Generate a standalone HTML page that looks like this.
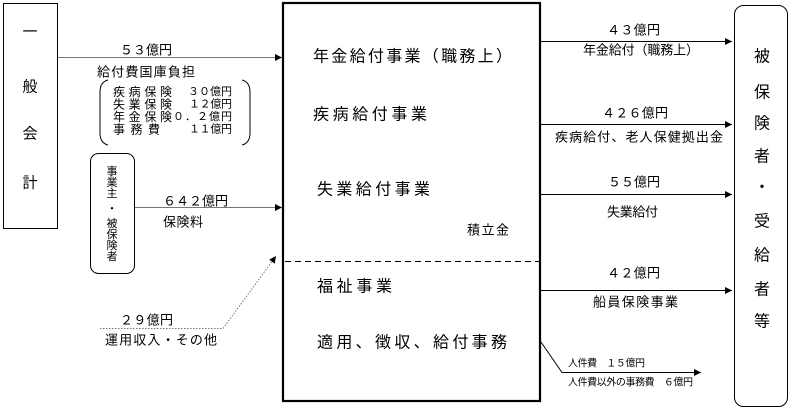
<!DOCTYPE html>
<html><head><meta charset="utf-8"><style>
html,body{margin:0;padding:0;background:#fff;}
svg{display:block;}
text{font-family:"Liberation Sans","Noto Sans CJK JP",sans-serif;fill:#000;dominant-baseline:central;}
</style></head><body>
<svg width="792" height="415" viewBox="0 0 792 415" xmlns="http://www.w3.org/2000/svg">
<defs>
<marker id="ah" markerWidth="8" markerHeight="8" refX="7" refY="4" orient="auto" markerUnits="userSpaceOnUse">
<path d="M0,0.5 L7,4 L0,7.5 Z" fill="#000"/>
</marker>
</defs>

<!-- left box 一般会計 -->
<rect x="3.5" y="3.5" width="54" height="225" fill="#fff" stroke="#000" stroke-width="1"/>
<g font-size="15" text-anchor="middle">
<text x="30" y="32">一</text>
<text x="30" y="87">般</text>
<text x="30" y="134">会</text>
<text x="30" y="183">計</text>
</g>

<!-- main box -->
<rect x="283" y="3" width="257" height="398" fill="none" stroke="#000" stroke-width="2.2"/>
<line x1="285" y1="261.5" x2="540" y2="261.5" stroke="#000" stroke-width="1" stroke-dasharray="6,4"/>
<g font-size="16">
<text x="313" y="57" textLength="199" lengthAdjust="spacing">年金給付事業（職務上）</text>
<text x="313" y="115" textLength="114" lengthAdjust="spacing">疾病給付事業</text>
<text x="317" y="190" textLength="113" lengthAdjust="spacing">失業給付事業</text>
<text x="317" y="287" textLength="75" lengthAdjust="spacing">福祉事業</text>
<text x="317" y="343" textLength="190" lengthAdjust="spacing">適用、徴収、給付事務</text>
</g>
<text x="467" y="230" font-size="13" textLength="42" lengthAdjust="spacing">積立金</text>

<!-- right box -->
<rect x="734.5" y="5.5" width="53" height="401" rx="9" ry="9" fill="#fff" stroke="#000" stroke-width="1"/>
<g font-size="16" text-anchor="middle">
<text x="762" y="57">被</text>
<text x="762" y="93">保</text>
<text x="762" y="124">険</text>
<text x="762" y="157">者</text>
<text x="762" y="188">・</text>
<text x="762" y="222">受</text>
<text x="762" y="256">給</text>
<text x="762" y="290">者</text>
<text x="762" y="322">等</text>
</g>

<!-- 53億円 arrow -->
<line x1="58" y1="57.5" x2="282" y2="57.5" stroke="#777" stroke-width="1" marker-end="url(#ah)"/>
<g font-size="13">
<text x="120" y="50" textLength="52" lengthAdjust="spacing">５３億円</text>
<text x="97" y="72" textLength="98" lengthAdjust="spacing">給付費国庫負担</text>
</g>

<!-- bracket group -->
<path d="M108,80 Q100,82 100,92 L100,133 Q100,143 108,145" fill="none" stroke="#000" stroke-width="1"/>
<path d="M242,80 Q250,82 250,92 L250,133 Q250,143 242,145" fill="none" stroke="#000" stroke-width="1"/>
<g font-size="12">
<text x="113" y="92" textLength="59" lengthAdjust="spacing">疾病保険</text>
<text x="113" y="104.5" textLength="59" lengthAdjust="spacing">失業保険</text>
<text x="113" y="117" textLength="59" lengthAdjust="spacing">年金保険</text>
<text x="113" y="129.5" textLength="47" lengthAdjust="spacing">事務費</text>
</g>
<g font-size="11">
<text x="188" y="92" textLength="44" lengthAdjust="spacing">３０億円</text>
<text x="189" y="104.5" textLength="43" lengthAdjust="spacing">１２億円</text>
<text x="173" y="117" textLength="59" lengthAdjust="spacing">０．２億円</text>
<text x="189" y="129.5" textLength="43" lengthAdjust="spacing">１１億円</text>
</g>

<!-- 事業主・被保険者 box -->
<rect x="90.5" y="153.5" width="44" height="120" rx="8" ry="8" fill="#fff" stroke="#000" stroke-width="1"/>
<g font-size="11" text-anchor="middle">
<text x="112" y="172">事</text>
<text x="112" y="183">業</text>
<text x="112" y="194">主</text>
<text x="112" y="209">・</text>
<text x="112" y="224">被</text>
<text x="112" y="235">保</text>
<text x="112" y="246">険</text>
<text x="112" y="257">者</text>
</g>

<!-- 642億円 arrow -->
<line x1="135" y1="207.5" x2="282" y2="207.5" stroke="#777" stroke-width="1" marker-end="url(#ah)"/>
<g font-size="13">
<text x="163" y="201" textLength="65" lengthAdjust="spacing">６４２億円</text>
<text x="163" y="222" textLength="40" lengthAdjust="spacing">保険料</text>
</g>

<!-- 29億円 dotted -->
<polyline points="100,328.5 223,328.5 276,256" fill="none" stroke="#777" stroke-width="1" stroke-dasharray="1.5,1.5" marker-end="url(#ah)"/>
<g font-size="13">
<text x="120" y="320" textLength="53" lengthAdjust="spacing">２９億円</text>
<text x="105" y="340" textLength="112" lengthAdjust="spacing">運用収入・その他</text>
</g>

<!-- right arrows -->
<g stroke="#000" stroke-width="1">
<line x1="541" y1="41.5" x2="732" y2="41.5" marker-end="url(#ah)"/>
<line x1="541" y1="124.5" x2="732" y2="124.5" marker-end="url(#ah)"/>
<line x1="541" y1="194.5" x2="732" y2="194.5" marker-end="url(#ah)"/>
<line x1="541" y1="290.5" x2="732" y2="290.5" marker-end="url(#ah)"/>
<polyline points="541,342 562,372.5 701,372.5" fill="none" marker-end="url(#ah)"/>
</g>
<g font-size="13">
<text x="607" y="30" textLength="53" lengthAdjust="spacing">４３億円</text>
<text x="583" y="50" textLength="116" lengthAdjust="spacing">年金給付（職務上）</text>
<text x="602" y="113" textLength="66" lengthAdjust="spacing">４２６億円</text>
<text x="555" y="137" textLength="168" lengthAdjust="spacing">疾病給付、老人保健拠出金</text>
<text x="608" y="182" textLength="52" lengthAdjust="spacing">５５億円</text>
<text x="607" y="212" textLength="51" lengthAdjust="spacing">失業給付</text>
<text x="607" y="273" textLength="53" lengthAdjust="spacing">４２億円</text>
<text x="593" y="302" textLength="85" lengthAdjust="spacing">船員保険事業</text>
</g>
<g font-size="10">
<text x="568" y="364" textLength="77" lengthAdjust="spacing">人件費　１５億円</text>
<text x="568" y="383" textLength="125" lengthAdjust="spacing">人件費以外の事務費　６億円</text>
</g>
</svg>
</body></html>
